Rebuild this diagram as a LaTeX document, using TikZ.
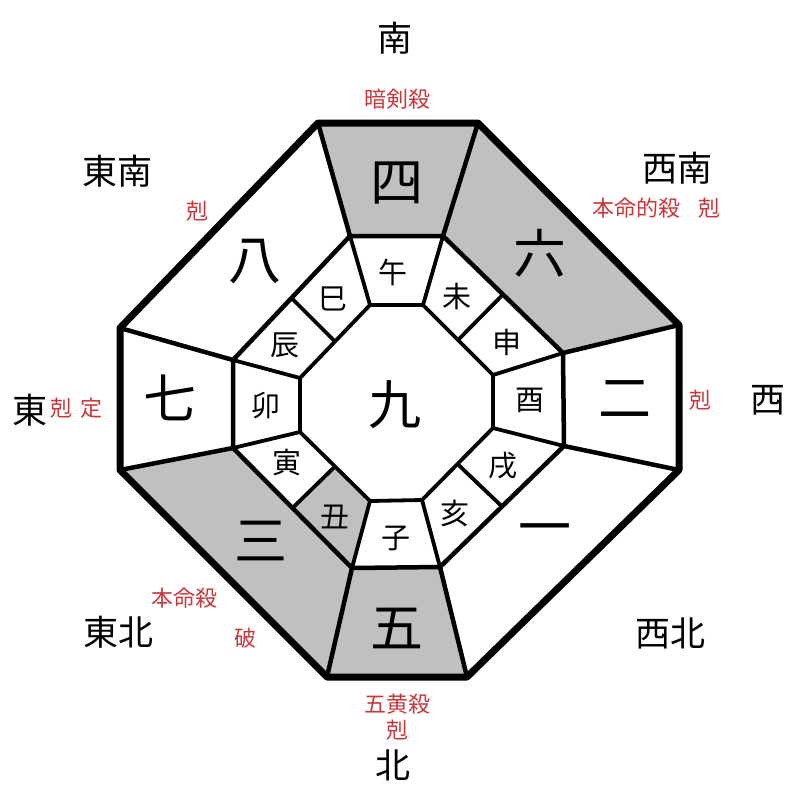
\documentclass[tikz,border=0pt]{standalone}
\usepackage{fontspec}
\usetikzlibrary{calc}
\setmainfont{Noto Sans CJK JP}
\definecolor{labred}{RGB}{200,55,60}
\definecolor{shade}{RGB}{192,192,192}
\tikzset{
  numtxt/.style={font=\fontsize{53}{53}\selectfont},
  brtxt/.style={font=\fontsize{29}{29}\selectfont},
  dirtxt/.style={font=\fontsize{35}{35}\selectfont},
  labtxt/.style={text=labred,font=\fontsize{22}{22}\selectfont},
  outerline/.style={line width=7pt,line join=round},
  midline/.style={line width=4.5pt,line join=round},
  innerline/.style={line width=3.8pt,line join=round},
  grayfill/.style={fill=shade,draw=none}
}
\begin{document}
\begin{tikzpicture}[x=1pt,y=-1pt]
\useasboundingbox (0,0) rectangle (800,800);
% outer octagon
\coordinate (O1) at (318,123);
\coordinate (O2) at (478,123);
\coordinate (O3) at (679,325);
\coordinate (O4) at (679,470);
\coordinate (O5) at (467,677);
\coordinate (O6) at (327,677);
\coordinate (O7) at (120,470);
\coordinate (O8) at (120,328);
% middle octagon
\coordinate (M1) at (350,236);
\coordinate (M2) at (443,236);
\coordinate (M3) at (563,353);
\coordinate (M4) at (564,446);
\coordinate (M5) at (440,567);
\coordinate (M6) at (352,568);
\coordinate (M7) at (233,448);
\coordinate (M8) at (233,360);
% inner octagon
\coordinate (I1) at (370,305);
\coordinate (I2) at (423,305);
\coordinate (I3) at (493,375);
\coordinate (I4) at (493,428);
\coordinate (I5) at (422,500);
\coordinate (I6) at (370,501);
\coordinate (I7) at (300,432);
\coordinate (I8) at (300,378);
% midpoints for diagonal cells
\coordinate (A23) at ($(M2)!0.5!(M3)$);
\coordinate (B23) at ($(I2)!0.5!(I3)$);
\coordinate (A45) at ($(M4)!0.5!(M5)$);
\coordinate (B45) at ($(I4)!0.5!(I5)$);
\coordinate (A67) at ($(M6)!0.5!(M7)$);
\coordinate (B67) at ($(I6)!0.5!(I7)$);
\coordinate (A81) at ($(M8)!0.5!(M1)$);
\coordinate (B81) at ($(I8)!0.5!(I1)$);
% gray areas
\path[grayfill] (O1) -- (O2) -- (M2) -- (M1) -- cycle;
\path[grayfill] (O2) -- (O3) -- (M3) -- (M2) -- cycle;
\path[grayfill] (O6) -- (O7) -- (M7) -- (M6) -- cycle;
\path[grayfill] (M6) -- (M5) -- (O5) -- (O6) -- cycle;
\path[grayfill] (M6) -- (A67) -- (B67) -- (I6) -- cycle;
% inner lines
\draw[innerline] (I1) -- (I2) -- (I3) -- (I4) -- (I5) -- (I6) -- (I7) -- (I8) -- cycle;
\draw[innerline] (M1) -- (I1) (M2) -- (I2) (M3) -- (I3) (M4) -- (I4)
  (M5) -- (I5) (M6) -- (I6) (M7) -- (I7) (M8) -- (I8);
\draw[innerline] (A23) -- (B23) (A45) -- (B45) (A67) -- (B67) (A81) -- (B81);
% middle lines
\draw[midline] (M1) -- (M2) -- (M3) -- (M4) -- (M5) -- (M6) -- (M7) -- (M8) -- cycle;
\draw[midline] (O1) -- (M1) (O2) -- (M2) (O3) -- (M3) (O4) -- (M4)
  (O5) -- (M5) (O6) -- (M6) (O7) -- (M7) (O8) -- (M8);
% outer octagon
\draw[outerline] (O1) -- (O2) -- (O3) -- (O4) -- (O5) -- (O6) -- (O7) -- (O8) -- cycle;
% star numbers
\node[numtxt] (n4) at (397,183) {四};
\node[numtxt] (n6) at (540,253) {六};
\node[numtxt] (n8) at (255,262) {八};
\node[numtxt] (n7) at (170,398) {七};
\node[numtxt] (n2) at (625,399) {二};
\node[numtxt] (n3) at (261,541) {三};
\node[numtxt] (n1) at (545,535) {一};
\node[numtxt] (n5) at (397,628) {五};
\node[numtxt] (n9) at (395,405) {九};
% branches
\node[brtxt] (bwu) at (393,272) {午};
\node[brtxt] (bwei) at (457,296) {未};
\node[brtxt] (bshen) at (507,342) {申};
\node[brtxt] (byou) at (530,400) {酉};
\node[brtxt] (bxu) at (503,466) {戌};
\node[brtxt] (bhai) at (455,513) {亥};
\node[brtxt] (bzi) at (396,538) {子};
\node[brtxt] (bchou) at (335,517) {丑};
\node[brtxt] (byin) at (287,463) {寅};
\node[brtxt] (bmao) at (266,406) {卯};
\node[brtxt] (bchen) at (285,345) {辰};
\node[brtxt] (bsi) at (333,299) {巳};
% directions
\node[dirtxt] (dS) at (395,38) {南};
\node[dirtxt] (dN) at (393,765) {北};
\node[dirtxt] (dE) at (30,410) {東};
\node[dirtxt] (dW) at (768,400) {西};
\node[dirtxt] (dSE) at (117,171) {東南};
\node[dirtxt] (dSW) at (677,168) {西南};
\node[dirtxt] (dNE) at (118,632) {東北};
\node[dirtxt] (dNW) at (670,633) {西北};
% red labels
\node[labtxt] (l1) at (397,99) {暗剣殺};
\node[labtxt] (l2) at (197,211) {剋};
\node[labtxt] (l3) at (636,208) {本命的殺};
\node[labtxt] (l4) at (709,208) {剋};
\node[labtxt] (l5) at (61,408) {剋};
\node[labtxt] (l6) at (91,408) {定};
\node[labtxt] (l7) at (700,400) {剋};
\node[labtxt] (l8) at (184,598) {本命殺};
\node[labtxt] (l9) at (245,638) {破};
\node[labtxt] (l10) at (397,704) {五黄殺};
\node[labtxt] (l11) at (397,730) {剋};
\end{tikzpicture}
\end{document}
